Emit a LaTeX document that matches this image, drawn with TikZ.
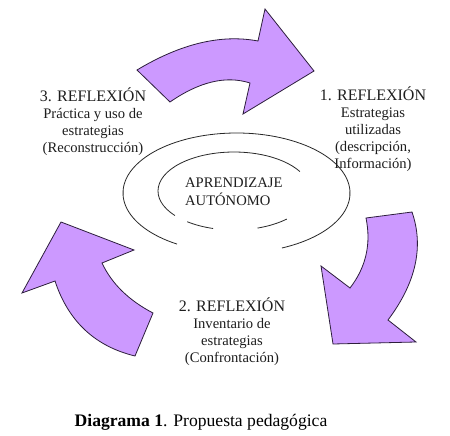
\documentclass[tikz,border=0pt]{standalone}
\usepackage{fontspec}
\setmainfont{Liberation Serif}
\definecolor{arrowfill}{RGB}{204,153,255}
\definecolor{arrowline}{RGB}{45,30,60}
\definecolor{txt}{RGB}{30,30,30}
\definecolor{ringline}{RGB}{40,40,40}
\newcommand\hdline[1]{{\fontsize{16}{17}\selectfont #1}}
\begin{document}
\begin{tikzpicture}[x=1pt,y=-1pt,
  bigarrow/.style={fill=arrowfill,draw=arrowline,line width=0.8pt,line join=miter},
  ring/.style={draw=ringline,line width=0.8pt},
  lbl/.style={align=center,inner sep=0pt,text=txt,font=\fontsize{14.6}{17}\selectfont},
  centerlbl/.style={align=left,inner sep=0pt,text=txt,font=\fontsize{14.6}{18}\selectfont},
  caption/.style={inner sep=0pt,text=black,font=\fontsize{17.6}{20}\selectfont}]
\useasboundingbox (0,0) rectangle (450,436);
\fill[white] (0,0) rectangle (450,436);

% curved arrows
\draw[bigarrow] (137,70) .. controls (180.7,43.7) and (221,34) .. (258,41) -- (265,9) -- (314,71)
  -- (243,114) -- (250,83) .. controls (226,75.3) and (199.3,81.7) .. (170,102) -- cycle;
\draw[bigarrow] (366,218) -- (412,212) .. controls (424,246.7) and (416,282.7) .. (388,320) -- (416,342)
  -- (333,344) -- (321,266) -- (350,288) .. controls (366,267.3) and (371.3,244) .. (366,218) -- cycle;
\draw[bigarrow] (153,313) .. controls (128.7,300.3) and (111.7,283.7) .. (102,263) -- (134,250) -- (61,222)
  -- (22,293) -- (55,281) .. controls (68.3,321.3) and (95,346.3) .. (135,356) -- cycle;

% rings
\draw[ring] ([shift={(121.6:113.5 and 60)}]236.5,193) arc[start angle=121.6,end angle=426.4,x radius=113.5,y radius=60];
\draw[ring] ([shift={(141:76 and 39)}]234,191) arc[start angle=141,end angle=330,x radius=76,y radius=39];
\draw[ring] ([shift={(128:76 and 39)}]234,191) arc[start angle=128,end angle=106,x radius=76,y radius=39];
\draw[ring] ([shift={(72:76 and 39)}]234,191) arc[start angle=72,end angle=46,x radius=76,y radius=39];

% labels
\node[lbl] (r3) at (93,121.5) {\hdline{3. REFLEXIÓN}\\Práctica y uso de\\estrategias\\(Reconstrucción)};
\node[lbl] (r1) at (373,129) {\hdline{1. REFLEXIÓN}\\Estrategias\\utilizadas\\(descripción,\\Información)};
\node[lbl] (r2) at (232,332) {\hdline{2. REFLEXIÓN}\\Inventario de\\estrategias\\(Confrontación)};
\node[centerlbl,anchor=west] (core) at (185,192) {APRENDIZAJE\\AUTÓNOMO};
\node[caption] (cap) at (201,422) {\textbf{Diagrama 1}. Propuesta pedagógica};
\end{tikzpicture}
\end{document}
